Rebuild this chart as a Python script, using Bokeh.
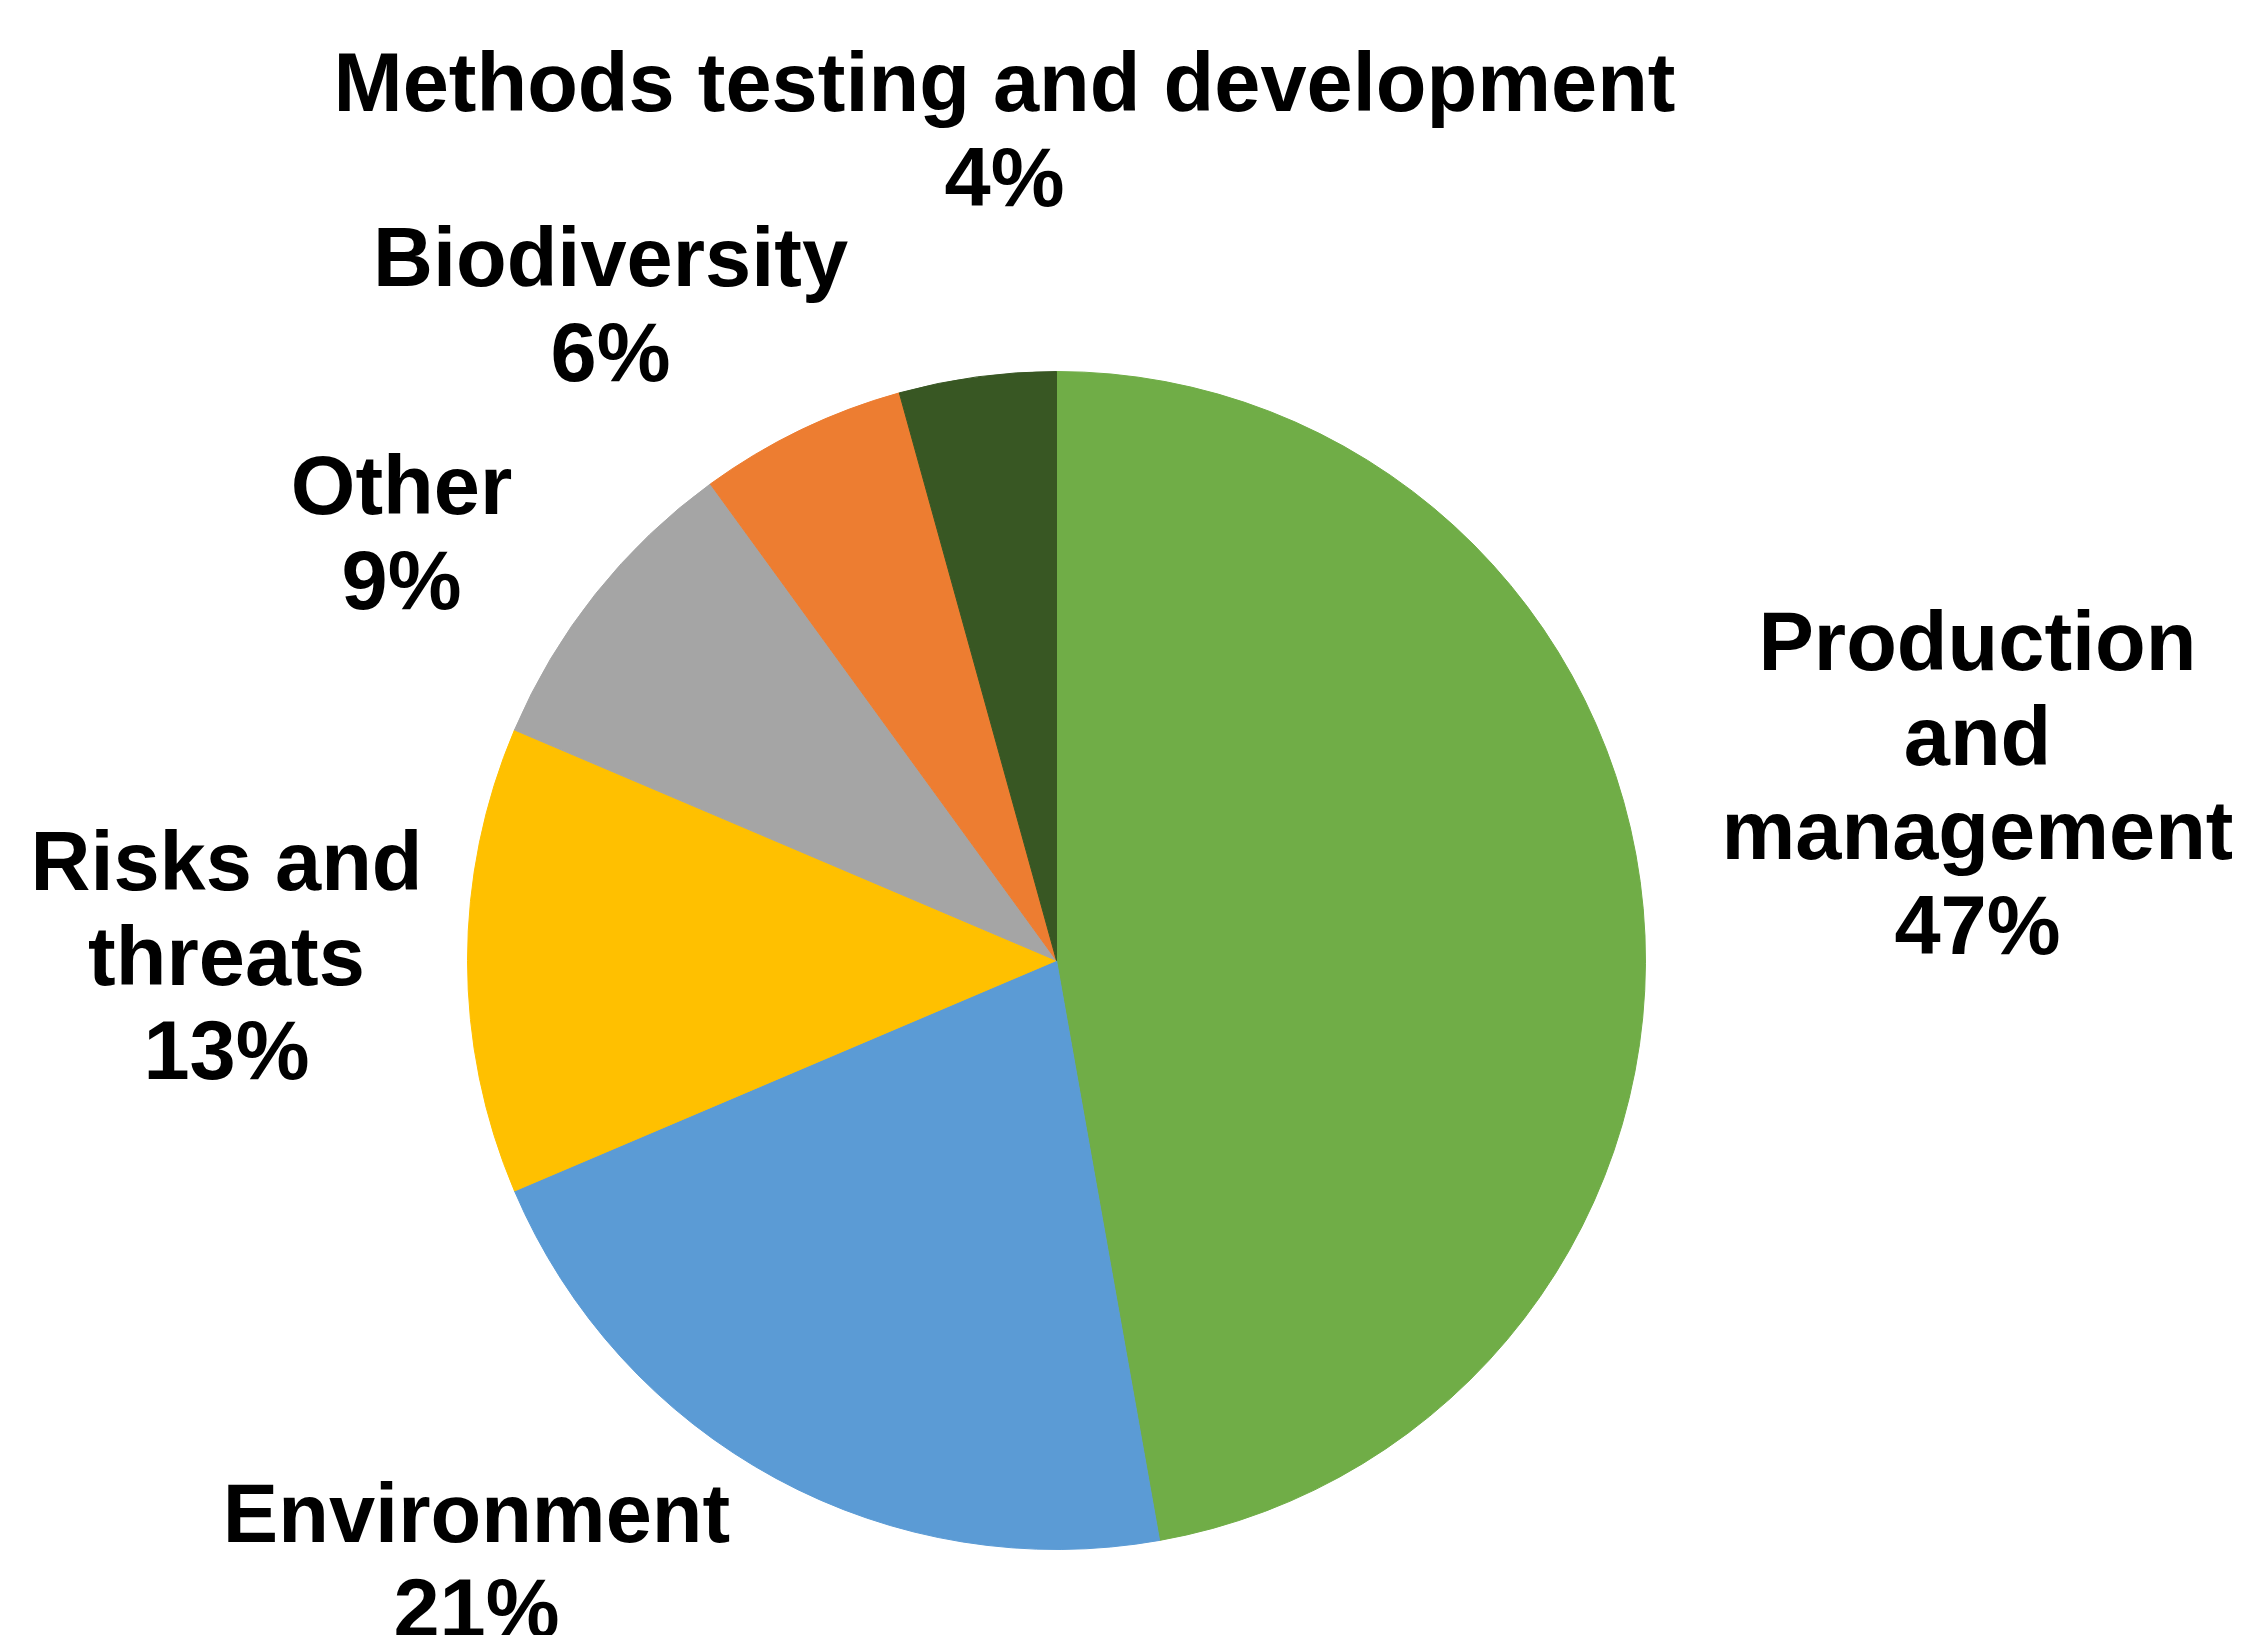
import numpy as np
from bokeh.plotting import figure
from bokeh.models import Range1d, ColumnDataSource
from bokeh.core.properties import value
from bokeh.embed import file_html
from bokeh.resources import INLINE

# ---- data ----
categories = ["Production and management", "Environment", "Risks and threats",
              "Other", "Biodiversity", "Methods testing and development"]
shares = [47.2, 21.4, 12.8, 8.6, 5.7, 4.3]   # percent, clockwise from 12 o'clock
colors = ["#70AD47", "#5B9BD5", "#FFC000", "#A5A5A5", "#ED7D31", "#385723"]

# ---- layout (label line wrapping and placement, in page pixels) ----
label_lines = [["Production", "and", "management"], ["Environment"], ["Risks and", "threats"],
               ["Other"], ["Biodiversity"], ["Methods testing and development"]]
label_anchor = [(1978, 669), (477, 1541), (227, 889), (402, 513), (611, 285), (1005, 110)]
line_gap = 94.5
baseline_fix = 27
OFF = 1          # page offset of plot
PAGE_H = 1637
W, H = 2232, 1635
cx, cy, R = 1057, 961, 589

p = figure(width=W, height=H, output_backend="svg", toolbar_location=None,
           x_range=Range1d(OFF, OFF + W), y_range=Range1d(PAGE_H - OFF - H, PAGE_H - OFF),
           min_border=0, outline_line_color=None)
p.axis.visible = False
p.grid.visible = False
p.background_fill_color = "white"
p.border_fill_color = "white"

frac = np.array(shares) / sum(shares)
cum = np.concatenate([[0], np.cumsum(frac)])
start = np.pi / 2 - 2 * np.pi * cum[:-1]
end = np.pi / 2 - 2 * np.pi * cum[1:]

src = ColumnDataSource(dict(start=start, end=end, color=colors, cat=categories))
p.wedge(x=cx, y=PAGE_H - cy, radius=R, start_angle="start", end_angle="end",
        direction="clock", fill_color="color", line_color="color", line_width=1,
        source=src)

xs, ys, txt = [], [], []
for lines, (ax, ay), s in zip(label_lines, label_anchor, shares):
    allines = lines + [f"{round(s)}%"]
    for i, t in enumerate(allines):
        xs.append(ax)
        ys.append(PAGE_H - (ay + i * line_gap - baseline_fix))
        txt.append(t)

p.text(x=xs, y=ys, text=txt, text_font=value("Liberation Sans"), text_font_style="bold",
       text_font_size="83px", text_align="center", text_baseline="alphabetic",
       text_color="black")

open("out.html", "w").write(file_html(p, INLINE))
